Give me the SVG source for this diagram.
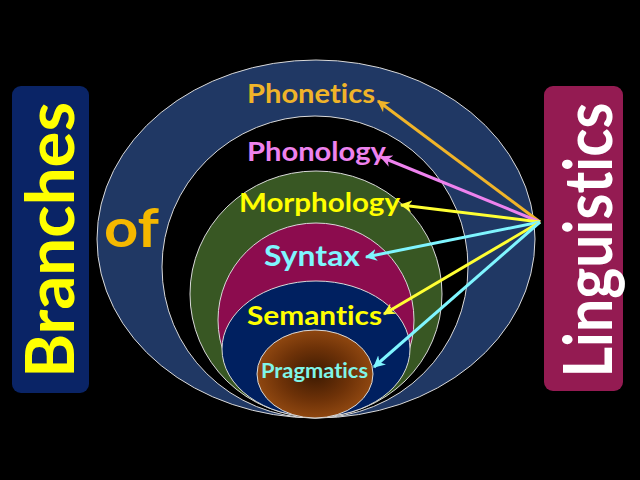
<svg xmlns="http://www.w3.org/2000/svg" width="640" height="480" viewBox="0 0 640 480">
<defs>
<style>
.ring{stroke:#d9d9d9;stroke-width:1}
.lbl{font-family:"Lato","Liberation Sans",sans-serif;font-weight:bold;font-variant-ligatures:none;font-feature-settings:"liga" 0}
.arr{stroke-width:3;fill:none}
</style>
<radialGradient id="brown" cx="0.5" cy="0.5" r="0.5">
<stop offset="0" stop-color="#3d1a02"/>
<stop offset="0.6" stop-color="#6e3208"/>
<stop offset="1" stop-color="#8f4710"/>
</radialGradient>
<marker id="mOr" viewBox="0 0 10 10" refX="9" refY="5" markerWidth="4" markerHeight="4" orient="auto" markerUnits="strokeWidth"><path d="M0,0 L10,5 L0,10 L3,5 z" fill="#f0b429"/></marker>
<marker id="mVi" viewBox="0 0 10 10" refX="9" refY="5" markerWidth="4" markerHeight="4" orient="auto" markerUnits="strokeWidth"><path d="M0,0 L10,5 L0,10 L3,5 z" fill="#ee82ee"/></marker>
<marker id="mYe" viewBox="0 0 10 10" refX="9" refY="5" markerWidth="4" markerHeight="4" orient="auto" markerUnits="strokeWidth"><path d="M0,0 L10,5 L0,10 L3,5 z" fill="#ffff33"/></marker>
<marker id="mCy" viewBox="0 0 10 10" refX="9" refY="5" markerWidth="4" markerHeight="4" orient="auto" markerUnits="strokeWidth"><path d="M0,0 L10,5 L0,10 L3,5 z" fill="#7ff5ff"/></marker>
</defs>
<rect width="640" height="480" fill="#000"/>

<g id="left-title">
<rect x="12" y="86" width="77" height="307" rx="9" fill="#0a2466"/>
<text class="lbl" transform="translate(74,240) rotate(-90)" text-anchor="middle" font-size="66" fill="#ffff00" textLength="276" lengthAdjust="spacingAndGlyphs">Branches</text>
</g>

<g id="right-title">
<rect x="544" y="86" width="79" height="305" rx="9" fill="#941b52"/>
<text class="lbl" transform="translate(612,240) rotate(-90)" text-anchor="middle" font-size="66" fill="#ffffff" textLength="275" lengthAdjust="spacingAndGlyphs">Linguistics</text>
</g>

<g id="phonetics">
<ellipse class="ring" cx="316" cy="239" rx="219" ry="179" fill="#203864"/>
<text class="lbl" x="247" y="103" font-size="27" fill="#f0b429" textLength="128" lengthAdjust="spacingAndGlyphs">Phonetics</text>
</g>
<g id="of-label">
<text class="lbl" x="104" y="247" font-size="54" fill="#f5b800" textLength="55" lengthAdjust="spacingAndGlyphs">of</text>
</g>
<g id="phonology">
<ellipse class="ring" cx="315" cy="267" rx="153" ry="151" fill="#000000"/>
<text class="lbl" x="247" y="161" font-size="27" fill="#ee82ee" textLength="139" lengthAdjust="spacingAndGlyphs">Phonology</text>
</g>
<g id="morphology">
<ellipse class="ring" cx="316" cy="294" rx="126" ry="123" fill="#385723"/>
<text class="lbl" x="239" y="212" font-size="27" fill="#ffff00" textLength="161" lengthAdjust="spacingAndGlyphs">Morphology</text>
</g>
<g id="syntax">
<ellipse class="ring" cx="316" cy="320" rx="98" ry="97" fill="#8c0c4e"/>
<text class="lbl" x="264" y="266" font-size="29" fill="#7ff5ff" textLength="96" lengthAdjust="spacingAndGlyphs">Syntax</text>
</g>
<g id="semantics">
<ellipse class="ring" cx="316" cy="349" rx="94" ry="68" fill="#002060"/>
<text class="lbl" x="247" y="325" font-size="26" fill="#ffff00" textLength="135" lengthAdjust="spacingAndGlyphs">Semantics</text>
</g>
<g id="pragmatics">
<ellipse class="ring" cx="315" cy="374" rx="58" ry="44" fill="url(#brown)"/>
<text class="lbl" x="261" y="378" font-size="20" fill="#7ff5e8" textLength="107" lengthAdjust="spacingAndGlyphs">Pragmatics</text>
</g>

<g id="connectors">
<line class="arr" x1="540" y1="222" x2="378" y2="101" stroke="#f0b429" marker-end="url(#mOr)"/>
<line class="arr" x1="540" y1="222" x2="381" y2="157" stroke="#ee82ee" marker-end="url(#mVi)"/>
<line class="arr" x1="540" y1="222" x2="401" y2="205" stroke="#ffff33" marker-end="url(#mYe)"/>
<line class="arr" x1="540" y1="222" x2="366" y2="257" stroke="#7ff5ff" marker-end="url(#mCy)"/>
<line class="arr" x1="540" y1="222" x2="384" y2="314" stroke="#ffff33" marker-end="url(#mYe)"/>
<line class="arr" x1="540" y1="222" x2="374" y2="367" stroke="#7ff5ff" marker-end="url(#mCy)"/>
</g>
</svg>
